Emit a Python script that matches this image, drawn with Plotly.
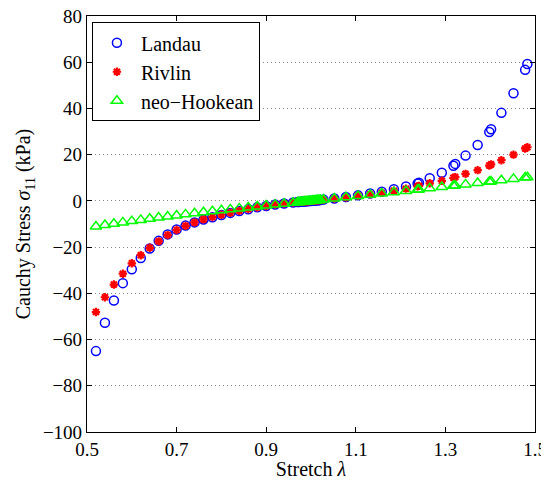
import plotly.graph_objects as go

stretch = [0.52, 0.54, 0.56, 0.58, 0.60, 0.62, 0.64, 0.66, 0.68, 0.70,
           0.72, 0.74, 0.76, 0.78, 0.80, 0.82, 0.84, 0.86, 0.88, 0.90,
           0.92, 0.94, 0.96,
           0.970, 0.973, 0.976, 0.979, 0.982, 0.985, 0.988, 0.991, 0.994, 0.997,
           1.000, 1.003, 1.006, 1.009, 1.012, 1.015, 1.018, 1.021,
           1.028, 1.052, 1.078, 1.105, 1.132, 1.158, 1.185, 1.212, 1.238, 1.241,
           1.265, 1.292, 1.318, 1.322, 1.345, 1.372, 1.398, 1.402, 1.425, 1.452,
           1.478, 1.483]

landau = [-65.0, -52.7, -43.1, -35.6, -29.6, -24.7, -20.6, -17.3, -14.5, -12.4,
          -10.7, -9.3, -8.1, -7.1, -6.1, -5.2, -4.4, -3.6, -2.8, -2.2,
          -1.6, -1.1, -0.7,
          -0.52, -0.47, -0.41, -0.36, -0.31, -0.26, -0.21, -0.15, -0.10, -0.05,
          0.0, 0.05, 0.11, 0.16, 0.22, 0.27, 0.33, 0.39,
          0.55, 1.05, 1.7, 2.4, 3.2, 4.0, 5.0, 6.2, 7.5, 7.9,
          9.8, 12.2, 15.2, 16.0, 19.6, 24.2, 29.8, 31.0, 38.1, 46.6,
          56.7, 59.2]

rivlin = [-48.1, -41.7, -36.2, -31.5, -27.0, -23.5, -20.3, -17.5, -14.8, -12.6,
          -10.8, -9.3, -8.0, -7.0, -6.0, -5.1, -4.3, -3.5, -2.8, -2.2,
          -1.6, -1.1, -0.7,
          -0.52, -0.47, -0.41, -0.36, -0.31, -0.26, -0.21, -0.15, -0.10, -0.05,
          0.0, 0.05, 0.11, 0.16, 0.21, 0.26, 0.31, 0.36,
          0.5, 1.0, 1.5, 2.2, 2.9, 3.5, 4.4, 5.3, 6.3, 6.5,
          7.6, 8.7, 10.0, 10.3, 11.7, 13.3, 15.3, 15.8, 17.6, 20.0,
          22.7, 23.2]

neo_hookean = [-11.07, -10.45, -9.86, -9.30, -8.75, -8.23, -7.72, -7.23, -6.75, -6.29,
               -5.83, -5.39, -4.95, -4.51, -4.09, -3.67, -3.25, -2.84, -2.43, -2.02,
               -1.61, -1.21, -0.80,
               -0.60, -0.54, -0.48, -0.42, -0.36, -0.30, -0.24, -0.18, -0.12, -0.06,
               0.0, 0.06, 0.12, 0.18, 0.24, 0.30, 0.36, 0.42,
               0.56, 1.05, 1.57, 2.12, 2.67, 3.20, 3.75, 4.31, 4.86, 4.92,
               5.43, 6.00, 6.56, 6.64, 7.14, 7.73, 8.30, 8.39, 8.90, 9.51,
               10.10, 10.22]

x_ticks = [0.5, 0.7, 0.9, 1.1, 1.3, 1.5]
y_ticks = [-100, -80, -60, -40, -20, 0, 20, 40, 60, 80]

FONT = "Liberation Serif, Times New Roman, serif"

fig = go.Figure()
fig.add_trace(go.Scatter(
    x=stretch, y=landau, mode="markers", name="Landau",
    marker=dict(symbol="circle-open", size=9, color="#0000ff",
                line=dict(width=1.5, color="#0000ff"))))
fig.add_trace(go.Scatter(
    x=stretch, y=rivlin, mode="markers", name="Rivlin",
    marker=dict(symbol="asterisk-open", size=7, color="#ff0000",
                line=dict(width=2.2, color="#ff0000"))))
fig.add_trace(go.Scatter(
    x=stretch, y=neo_hookean, mode="markers", name="neo\u2212Hookean",
    marker=dict(symbol="triangle-up-open", size=10, color="#00ff00",
                line=dict(width=1.5, color="#00ff00"))))

# page body has an 8px margin, so the figure is drawn offset by (8, 8)
fig.update_layout(
    width=541, height=472,
    margin=dict(l=79, r=14, t=8, b=48),
    paper_bgcolor="white", plot_bgcolor="white",
    font=dict(family=FONT, size=19, color="black"),
    legend=dict(x=0.011, y=0.985, xanchor="left", yanchor="top",
                bordercolor="black", borderwidth=1, bgcolor="white",
                font=dict(family=FONT, size=20), tracegroupgap=0,
                itemwidth=38),
    showlegend=True,
)
fig.update_xaxes(
    range=[0.5, 1.5], tickvals=x_ticks, ticktext=[f"{v:.1f}" for v in x_ticks],
    showline=True, linecolor="black", linewidth=1.2, mirror="ticks",
    ticks="inside", ticklen=5, tickcolor="black", showgrid=False, zeroline=False,
    automargin=False, ticklabeloverflow="allow",
    title=dict(text="Stretch <i>λ</i>", standoff=0, font=dict(size=20)),
    tickfont=dict(size=19),
)
fig.update_yaxes(
    range=[-100, 80], tickvals=y_ticks,
    showline=True, linecolor="black", linewidth=1.2, mirror="ticks",
    ticks="inside", ticklen=5, tickcolor="black",
    showgrid=True, gridcolor="#888888", griddash="1px,3px", gridwidth=1, zeroline=False,
    automargin=False, ticklabeloverflow="allow",
    title=dict(text="Cauchy Stress <i>σ</i><sub>11</sub> (kPa)", standoff=6, font=dict(size=20)),
    tickfont=dict(size=19),
)

fig.write_html("out.html")
